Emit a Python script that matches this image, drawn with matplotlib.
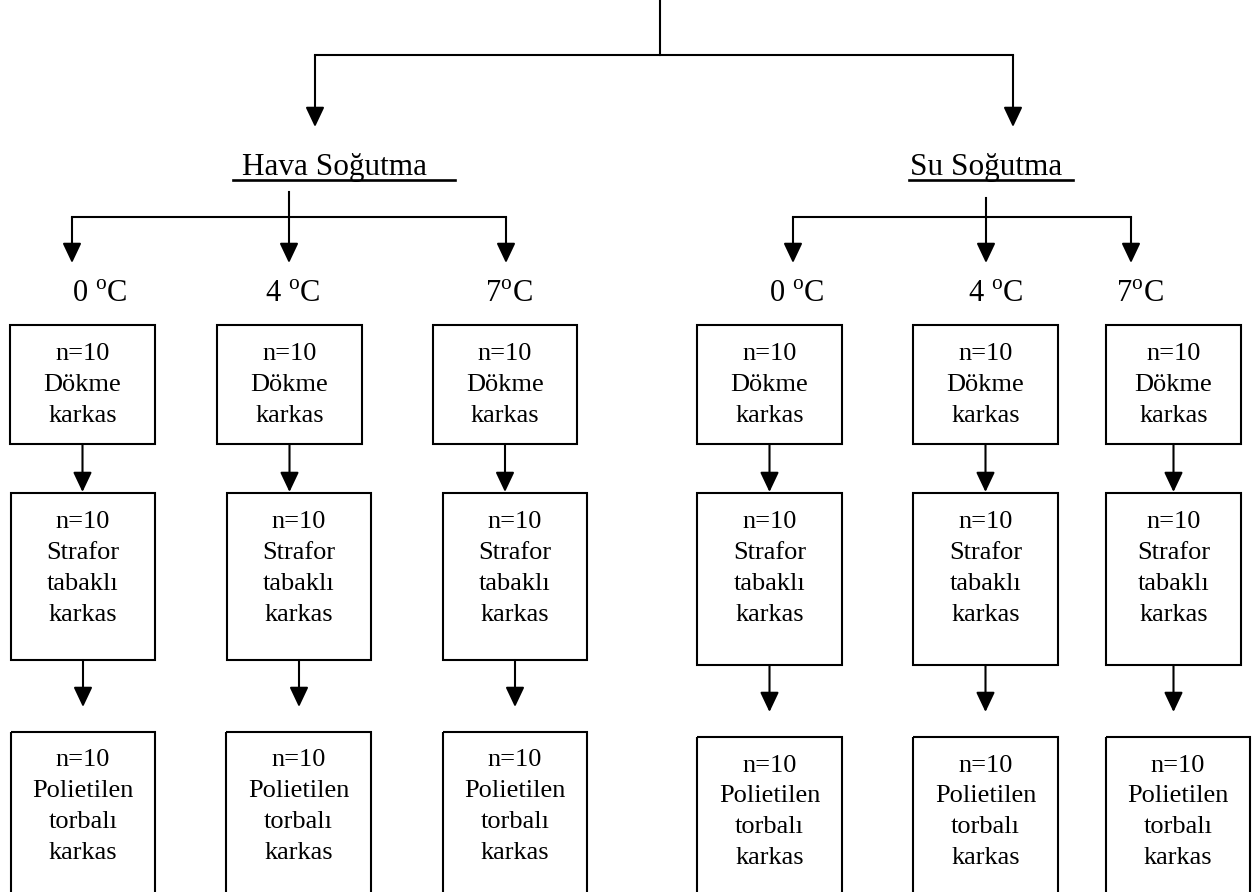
import matplotlib.pyplot as plt
from matplotlib.patches import Rectangle

# -------------------------
# DATA
# -------------------------
groups = ["Hava Soğutma", "Su Soğutma"]
temperatures = ["0 $^{\\rm o}$C", "4 $^{\\rm o}$C", "7$^{\\rm o}$C"]
n_per_box = 10
packaging = [["Dökme", "karkas"],
             ["Strafor", "tabaklı", "karkas"],
             ["Polietilen", "torbalı", "karkas"]]

# -------------------------
# LAYOUT (pixel coordinates, y grows downward)
# -------------------------
W, H = 1258, 892
top_x = 660
group_x = [315, 1013]
group_label_x = [242, 910]
underline = [(233, 455), (909, 1073)]
stem_x = [289, 986]
stem_top = [192, 198]
branch_x = [[72, 289, 506], [793, 986, 1131]]
temp_x = [[100, 293, 509], [797, 996, 1140]]

# boxes: per group, per column, per row -> (x0, x1)
box_x = [
    [[(10, 155), (11, 155), (11, 155)],
     [(217, 362), (227, 371), (226, 371)],
     [(433, 577), (443, 587), (443, 587)]],
    [[(697, 842), (697, 842), (697, 842)],
     [(913, 1058), (913, 1058), (913, 1058)],
     [(1106, 1241), (1106, 1241), (1106, 1250)]],
]
# rows: per group -> list of (y_top, y_bottom)
box_y = [
    [(325, 444), (493, 660), (732, 905)],
    [(325, 444), (493, 665), (737, 905)],
]
# centre of the first text line in each box row
text_y = [
    [352, 520, 758],
    [352, 520, 763],
]
line_step = 30.7

plt.rcParams['font.family'] = ['Liberation Serif', 'DejaVu Serif']
plt.rcParams['mathtext.fontset'] = 'custom'
plt.rcParams['mathtext.rm'] = 'Liberation Serif'

fig = plt.figure(figsize=(W / 100, H / 100), dpi=100)
ax = fig.add_axes([0, 0, 1, 1])
ax.set_xlim(0, W)
ax.set_ylim(H, 0)
ax.axis("off")

LW = 1.5
AP = dict(arrowstyle="-|>,head_length=1.1,head_width=0.52", color="black",
          lw=LW, shrinkA=0, shrinkB=0, mutation_scale=11)


def arrow(x, y0, y1):
    ax.annotate("", xy=(x, y1), xytext=(x, y0), arrowprops=AP)


# top connector
ax.plot([top_x, top_x], [0, 55], color="black", lw=LW)
ax.plot([group_x[0], group_x[1]], [55, 55], color="black", lw=LW)
for gx in group_x:
    arrow(gx, 55, 127)

for g, name in enumerate(groups):
    ax.text(group_label_x[g], 175, name, ha="left", va="baseline", fontsize=22.5)
    ax.plot(underline[g], [180, 180], color="black", lw=1.9)
    ax.plot([stem_x[g], stem_x[g]], [stem_top[g], 217], color="black", lw=LW)
    ax.plot([branch_x[g][0], branch_x[g][2]], [217, 217], color="black", lw=LW)
    for c in range(3):
        arrow(branch_x[g][c], 217, 263)
        ax.text(temp_x[g][c], 302, temperatures[c], ha="center", va="baseline",
                fontsize=22)
        for r in range(3):
            x0, x1 = box_x[g][c][r]
            y0, y1 = box_y[g][r]
            ax.add_patch(Rectangle((x0, y0), x1 - x0, y1 - y0, fill=False,
                                   edgecolor="black", lw=LW))
            lines = [f"n={n_per_box}"] + packaging[r]
            for i, line in enumerate(lines):
                ax.text((x0 + x1) / 2, text_y[g][r] + i * line_step, line,
                        ha="center", va="center_baseline", fontsize=19)
            if r < 2:
                ny0 = box_y[g][r + 1][0]
                tip = ny0 - 1 if r == 0 else ny0 - 25
                arrow((x0 + x1) / 2, y1, tip)

fig.savefig("out.png", dpi=100)
